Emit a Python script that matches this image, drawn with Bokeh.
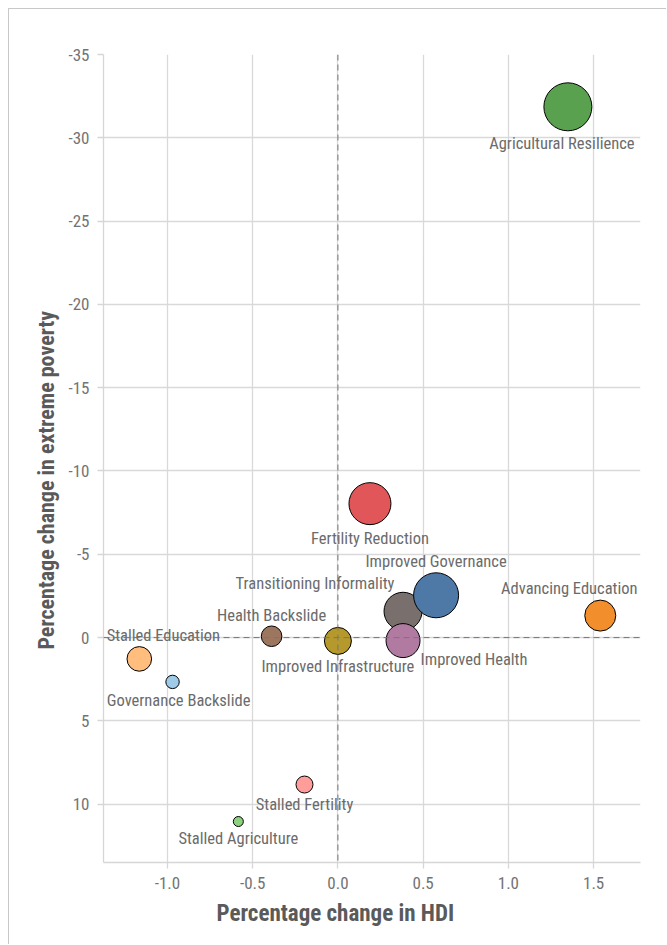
from bokeh.plotting import figure
from bokeh.models import ColumnDataSource, Range1d, Span, Title, FixedTicker
from bokeh.core.properties import value
from bokeh.embed import file_html
from bokeh.resources import INLINE

# ---- data ----
scenarios = ["Agricultural Resilience", "Fertility Reduction", "Transitioning Informality",
             "Improved Governance", "Improved Health", "Advancing Education",
             "Improved Infrastructure", "Health Backslide", "Stalled Education",
             "Governance Backslide", "Stalled Fertility", "Stalled Agriculture"]
hdi_change = [1.349, 0.188, 0.382, 0.576, 0.382, 1.539, 0.0, -0.389, -1.165, -0.970, -0.196, -0.584]
poverty_change = [-31.86, -8.04, -1.58, -2.54, 0.18, -1.32, 0.20, -0.08, 1.28, 2.66, 8.82, 11.04]
bubble_size = [48, 42, 38, 45, 34, 31, 27, 20.6, 24.6, 13.4, 17, 10]
colors = ["#59a14f", "#e15759", "#79706e", "#4e79a7", "#b07aa1", "#f28e2b",
          "#b6992d", "#9d7660", "#ffbe7d", "#a0cbe8", "#ff9d9a", "#8cd17d"]
x_ticks = [-1.0, -0.5, 0.0, 0.5, 1.0, 1.5]
y_ticks = [-35, -30, -25, -20, -15, -10, -5, 0, 5, 10]

# label placement (screen px offsets from bubble centre)
label_dx = [-6, 0, -88, 0, 71, -31, 0, 0, 24, 6, 0, 0]
label_dy = [37, 35, -28, -34, 19, -27, 26, -21, -23, 19, 20, 17]

FONT = "Liberation Sans Narrow, Roboto Condensed, DejaVu Sans Condensed, Roboto"

src = ColumnDataSource(dict(x=hdi_change, y=poverty_change, s=bubble_size, c=colors,
                            name=scenarios, dx=label_dx, dy=label_dy))

p = figure(frame_width=537, frame_height=808, output_backend="svg", toolbar_location=None,
           x_range=Range1d(-1.375, 1.775), y_range=Range1d(13.5, -35),
           min_border_left=94, min_border_top=45, min_border_right=26, min_border_bottom=82)
p.styles = {"border-left": "1px solid #c8c8c8", "border-top": "1px solid #c8c8c8",
            "margin-left": "8px", "margin-top": "8px"}
p.outline_line_color = None

for ax in (p.xaxis, p.yaxis):
    ax.axis_line_color = "#d6d6d6"
    ax.axis_line_width = 1.3
    ax.major_tick_line_color = "#d6d6d6"
    ax.major_tick_line_width = 1.3
    ax.major_tick_out = 6
    ax.major_tick_in = 0
    ax.minor_tick_line_color = None
    ax.major_label_text_font = FONT
    ax.major_label_text_font_size = "17px"
    ax.major_label_text_color = "#737373"
    ax.major_label_standoff = 8

p.xaxis.ticker = FixedTicker(ticks=x_ticks)
p.yaxis.ticker = FixedTicker(ticks=y_ticks)
p.xaxis.major_label_overrides = {t: f"{t:.1f}" for t in x_ticks}
p.yaxis.major_label_overrides = {t: f"{t}" for t in y_ticks}

p.xgrid.ticker = FixedTicker(ticks=x_ticks)
p.ygrid.ticker = FixedTicker(ticks=y_ticks)
for g in (p.xgrid, p.ygrid):
    g.grid_line_color = "#d9d9d9"
    g.grid_line_width = 1.3

p.add_layout(Span(location=0, dimension="height", line_color="#777777", line_dash="6 4", line_width=1))
p.add_layout(Span(location=0, dimension="width", line_color="#777777", line_dash="6 4", line_width=1))

p.scatter("x", "y", size="s", fill_color="c", line_color="black", line_width=1, source=src)
p.text("x", "y", text="name", x_offset="dx", y_offset="dy", source=src,
       text_font=value(FONT), text_font_size="16.5px", text_color="#6b6b6b",
       text_align="center", text_baseline="middle")

# axis titles, centred on the whole chart rather than on the frame
p.add_layout(Title(text="Percentage change in HDI", align="left", offset=113,
                   text_font=FONT, text_font_size="23px", text_color="#5a5a5a",
                   text_font_style="bold", standoff=12), "below")
p.add_layout(Title(text="Percentage change in extreme poverty", align="left", offset=213,
                   text_font=FONT, text_font_size="22px", text_color="#5a5a5a",
                   text_font_style="bold", standoff=14), "left")

open("out.html", "w").write(file_html(p, INLINE))
